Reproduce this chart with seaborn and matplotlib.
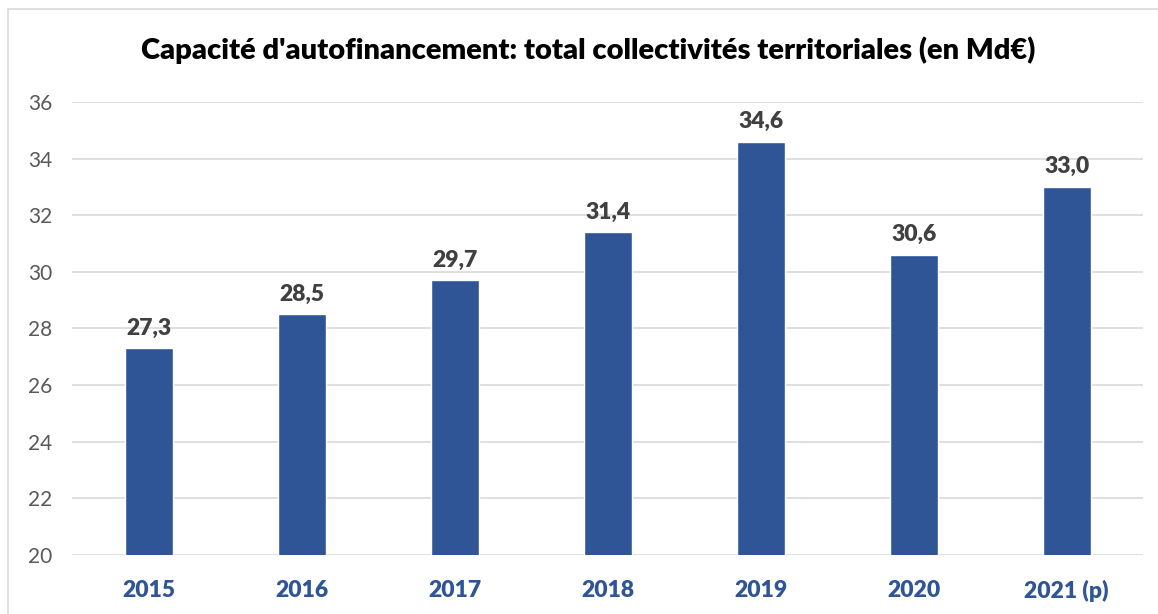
import matplotlib
matplotlib.use("Agg")
import matplotlib.pyplot as plt
import seaborn as sns
import pandas as pd
from matplotlib.patches import Rectangle

years = ["2015", "2016", "2017", "2018", "2019", "2020", "2021 (p)"]
caf = [27.3, 28.5, 29.7, 31.4, 34.6, 30.6, 33.0]
y_ticks = [20, 22, 24, 26, 28, 30, 32, 34, 36]

sns.set_style("white")
plt.rcParams['font.family'] = ['Lato', 'DejaVu Sans']

df = pd.DataFrame({"annee": years, "caf": caf})

fig = plt.figure(figsize=(11.58, 6.14), dpi=100)
ax = fig.add_axes([0.0622, 0.0961, 0.925, 0.738])

sns.barplot(data=df, x="annee", y="caf", color="#2F5597", saturation=1,
            width=0.314, ax=ax, zorder=3)

ax.set_ylim(20, 36)
ax.set_yticks(y_ticks)
ax.set_yticklabels([str(t) for t in y_ticks], fontsize=15, color="#595959")
ax.yaxis.grid(True, color="#d9d9d9", linewidth=1.2, zorder=0)
ax.set_axisbelow(True)
ax.tick_params(axis="both", length=0, pad=14)
ax.tick_params(axis="x", pad=18)
for lbl in ax.get_xticklabels():
    lbl.set_fontsize(16.5)
    lbl.set_fontweight("heavy")
    lbl.set_color("#2F5597")
ax.set_xlabel("")
ax.set_ylabel("")
for s in ax.spines.values():
    s.set_visible(False)

for i, v in enumerate(caf):
    ax.annotate(f"{v:.1f}".replace(".", ","), (i, v), xytext=(0, 7),
                textcoords="offset points", ha="center", va="bottom",
                fontsize=16.5, fontweight="heavy", color="#404040")

fig.text(0.508, 0.918, "Capacité d'autofinancement: total collectivités territoriales (en Md€)",
         ha="center", va="center", fontsize=21, fontweight="heavy", color="black")

fig.patches.append(Rectangle((8 / 1158, -0.01), 1.0, 1 - 9 / 614 + 0.01,
                             transform=fig.transFigure, fill=False,
                             edgecolor="#d9d9d9", linewidth=1.2))

fig.savefig("out.png", dpi=100)
